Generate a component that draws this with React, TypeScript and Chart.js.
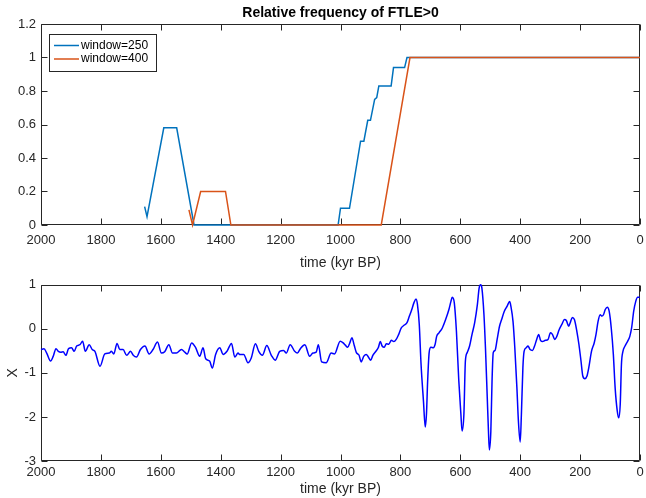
import React, { useEffect, useRef } from "react";
import { Chart, registerables } from "chart.js";

Chart.register(...registerables);

// ---------- text ----------
const TITLE = "Relative frequency of FTLE>0";
const X_LABEL = "time (kyr BP)";
const Y_LABEL_BOTTOM = "X";
const SERIES_LABELS = ["window=250", "window=400"];

// ---------- ticks ----------
const X_TICKS = [0, 200, 400, 600, 800, 1000, 1200, 1400, 1600, 1800, 2000];
const TOP_Y_TICKS = [0, 0.2, 0.4, 0.6, 0.8, 1, 1.2];
const BOTTOM_Y_TICKS = [-3, -2, -1, 0, 1];

// ---------- data: [time (kyr BP), value] ----------
const WINDOW_250: [number, number][] = [
  [1654, 0.11], [1646, 0.05], [1590, 0.58], [1547, 0.58], [1489, 0], [1008, 0],
  [1000, 0.1], [970, 0.1], [933, 0.5], [922, 0.5], [909, 0.625], [900, 0.625],
  [886, 0.75], [879, 0.76], [872, 0.83], [831, 0.83], [823, 0.94], [786, 0.94],
  [778, 1], [0, 1],
];

const WINDOW_400: [number, number][] = [
  [1506, 0.09], [1494, 0], [1467, 0.2], [1384, 0.2], [1366, 0], [864, 0],
  [768, 1], [0, 1],
];

const X_SERIES: [number, number][] = [
  [2000, -0.47], [1990, -0.45], [1981, -0.55], [1968, -0.73], [1959, -0.62], [1950, -0.45],
  [1942, -0.51], [1934, -0.53], [1926, -0.52], [1917, -0.6], [1908, -0.45], [1898, -0.43],
  [1889, -0.51], [1881, -0.39], [1870, -0.36], [1861, -0.28], [1852, -0.51], [1839, -0.36],
  [1829, -0.47], [1820, -0.51], [1803, -0.85], [1787, -0.57], [1772, -0.55], [1765, -0.51],
  [1757, -0.57], [1746, -0.33], [1737, -0.47], [1726, -0.47], [1714, -0.6], [1701, -0.51],
  [1692, -0.6], [1681, -0.64], [1668, -0.47], [1653, -0.39], [1639, -0.57], [1626, -0.47],
  [1611, -0.3], [1598, -0.55], [1587, -0.52], [1573, -0.36], [1561, -0.55], [1548, -0.55],
  [1531, -0.47], [1520, -0.53], [1512, -0.57], [1497, -0.32], [1484, -0.42], [1470, -0.62],
  [1459, -0.43], [1450, -0.68], [1437, -0.73], [1428, -0.89], [1417, -0.58], [1403, -0.43],
  [1392, -0.58], [1379, -0.51], [1364, -0.33], [1353, -0.64], [1342, -0.55], [1337, -0.58],
  [1323, -0.58], [1309, -0.77], [1298, -0.66], [1284, -0.34], [1273, -0.51], [1261, -0.6],
  [1246, -0.38], [1231, -0.6], [1218, -0.71], [1203, -0.51], [1190, -0.49], [1181, -0.55],
  [1168, -0.36], [1153, -0.51], [1144, -0.55], [1134, -0.45], [1119, -0.36], [1103, -0.62],
  [1092, -0.55], [1081, -0.53], [1074, -0.36], [1063, -0.75], [1048, -0.77], [1031, -0.55],
  [1020, -0.57], [1001, -0.28], [991, -0.32], [984, -0.37], [976, -0.42], [969, -0.32],
  [962, -0.2], [954, -0.38], [947, -0.54], [938, -0.6], [931, -0.75], [922, -0.62],
  [914, -0.58], [907, -0.64], [899, -0.71], [892, -0.6], [883, -0.52], [874, -0.43],
  [867, -0.29], [861, -0.39], [854, -0.42], [847, -0.34], [839, -0.35], [830, -0.26],
  [822, -0.29], [814, -0.24], [806, -0.13], [797, 0.02], [788, 0.08], [778, 0.14],
  [770, 0.29], [762, 0.44], [755, 0.59], [748, 0.68], [743, 0.55], [737, 0.1],
  [731, -0.81], [723, -1.64], [717, -2.23], [713, -1.94], [709, -1.18], [704, -0.54],
  [698, -0.42], [690, -0.43], [684, -0.35], [679, -0.17], [671, -0.09], [660, 0.02],
  [649, 0.21], [638, 0.44], [631, 0.63], [627, 0.72], [620, 0.59], [613, -0.05],
  [605, -1.18], [598, -1.94], [594, -2.32], [588, -1.94], [583, -0.73], [577, -0.54],
  [569, -0.39], [561, -0.13], [552, 0.14], [543, 0.55], [537, 0.93], [532, 1.0],
  [528, 0.93], [521, 0.32], [516, -0.43], [510, -1.56], [506, -2.32], [503, -2.75],
  [498, -2.32], [494, -1.18], [490, -0.54], [484, -0.49], [477, -0.24], [469, 0.06],
  [462, 0.21], [453, 0.4], [444, 0.51], [435, 0.62], [431, 0.51], [424, 0.17],
  [418, -0.43], [411, -1.34], [406, -2.09], [400, -2.57], [396, -1.94], [391, -0.88],
  [387, -0.51], [380, -0.43], [374, -0.39], [367, -0.47], [359, -0.49], [352, -0.39],
  [345, -0.24], [338, -0.13], [332, -0.26], [325, -0.29], [316, -0.26], [307, -0.24],
  [299, -0.09], [292, -0.13], [285, -0.24], [279, -0.19], [270, -0.02], [261, 0.1],
  [252, 0.21], [246, 0.19], [238, 0.06], [233, 0.14], [226, 0.26], [219, 0.21],
  [211, -0.05], [204, -0.35], [197, -0.73], [191, -1.07], [184, -1.13], [177, -1.07],
  [171, -0.88], [162, -0.51], [153, -0.32], [147, -0.13], [140, 0.17], [133, 0.32],
  [127, 0.29], [122, 0.32], [116, 0.44], [109, 0.49], [103, 0.4], [96, 0.02],
  [89, -0.58], [83, -1.34], [76, -1.86], [71, -2.02], [66, -1.71], [62, -0.81],
  [57, -0.51], [50, -0.39], [41, -0.28], [34, -0.17], [28, 0.02], [21, 0.4],
  [14, 0.63], [8, 0.72], [1, 0.72],
];

// ---------- style ----------
const FONT = "'Liberation Sans', Arial, Helvetica, sans-serif";
const AXIS_COLOR = "#262626";
const BLUE_250 = "#0072BD";
const ORANGE_400 = "#D95319";
const X_BLUE = "#0000FF";

const toPoints = (arr: [number, number][]) => arr.map(([x, y]) => ({ x, y }));

// MATLAB-like box with inward ticks on all four sides
const boxPlugin = {
  id: "matlabBox",
  beforeDatasetsDraw(chart: any) {
    const { ctx, chartArea, scales } = chart;
    const L = Math.round(chartArea.left) + 0.5;
    const R = Math.round(chartArea.right) - 0.5;
    const T = Math.round(chartArea.top) + 0.5;
    const B = Math.round(chartArea.bottom) - 0.5;
    const tl = 6;
    ctx.save();
    ctx.strokeStyle = AXIS_COLOR;
    ctx.lineWidth = 1;
    ctx.beginPath();
    ctx.rect(L, T, R - L, B - T);
    scales.x.ticks.forEach((t: any) => {
      const px = Math.round(scales.x.getPixelForValue(t.value)) + 0.5;
      ctx.moveTo(px, B);
      ctx.lineTo(px, B - tl);
      ctx.moveTo(px, T);
      ctx.lineTo(px, T + tl);
    });
    scales.y.ticks.forEach((t: any) => {
      const py = Math.round(scales.y.getPixelForValue(t.value)) + 0.5;
      ctx.moveTo(L, py);
      ctx.lineTo(L + tl, py);
      ctx.moveTo(R, py);
      ctx.lineTo(R - tl, py);
    });
    ctx.stroke();
    ctx.restore();
  },
};

// Boxed legend in the upper-left corner, built from the datasets
const legendPlugin = {
  id: "boxLegend",
  afterDraw(chart: any) {
    const { ctx, chartArea } = chart;
    const ds = chart.data.datasets;
    const x0 = chartArea.left + 8;
    const y0 = chartArea.top + 10;
    const rowH = 13.5;
    const w = 107;
    const h = 8 + rowH * ds.length + 2;
    ctx.save();
    ctx.fillStyle = "#ffffff";
    ctx.fillRect(x0, y0, w, h);
    ctx.strokeStyle = AXIS_COLOR;
    ctx.lineWidth = 1;
    ctx.strokeRect(Math.round(x0) + 0.5, Math.round(y0) + 0.5, w, h);
    ctx.font = `12px ${FONT}`;
    ctx.textBaseline = "middle";
    ctx.textAlign = "left";
    ds.forEach((d: any, i: number) => {
      const cy = y0 + 11.5 + i * rowH;
      ctx.strokeStyle = d.borderColor;
      ctx.lineWidth = 1.5;
      ctx.beginPath();
      ctx.moveTo(x0 + 5, cy);
      ctx.lineTo(x0 + 30, cy);
      ctx.stroke();
      ctx.fillStyle = "#000000";
      ctx.fillText(d.label, x0 + 32, cy);
    });
    ctx.restore();
  },
};

const tickFont = { family: FONT, size: 13 };
const labelFont = { family: FONT, size: 14 };

function xScale(height: number, tickPad: number) {
  return {
    type: "linear" as const,
    reverse: true,
    min: 0,
    max: 2000,
    afterBuildTicks: (s: any) => {
      s.ticks = X_TICKS.map((v) => ({ value: v }));
    },
    afterFit: (s: any) => {
      s.height = height;
    },
    grid: { display: false, drawTicks: false },
    border: { display: false },
    ticks: {
      padding: tickPad,
      color: AXIS_COLOR,
      font: tickFont,
      maxRotation: 0,
      autoSkip: false,
      callback: (v: any) => String(v),
    },
    title: {
      display: true,
      text: X_LABEL,
      color: AXIS_COLOR,
      font: labelFont,
      padding: { top: 0, bottom: 0 },
    },
  };
}

function yScale(ticks: number[], title?: string) {
  return {
    type: "linear" as const,
    min: ticks[0],
    max: ticks[ticks.length - 1],
    afterBuildTicks: (s: any) => {
      s.ticks = ticks.map((v) => ({ value: v }));
    },
    afterFit: (s: any) => {
      s.width = 41;
    },
    grid: { display: false, drawTicks: false },
    border: { display: false },
    ticks: {
      padding: 5,
      color: AXIS_COLOR,
      font: tickFont,
      autoSkip: false,
      callback: (v: any) => String(v),
    },
    title: {
      display: !!title,
      text: title || "",
      color: AXIS_COLOR,
      font: labelFont,
      padding: { top: 5, bottom: 0 },
    },
  };
}

export default function App() {
  const topRef = useRef<HTMLCanvasElement>(null);
  const botRef = useRef<HTMLCanvasElement>(null);

  useEffect(() => {
    const top = new Chart(topRef.current as HTMLCanvasElement, {
      type: "line",
      data: {
        datasets: [
          {
            label: SERIES_LABELS[0],
            data: toPoints(WINDOW_250),
            borderColor: BLUE_250,
            borderWidth: 1.5,
            pointRadius: 0,
            tension: 0,
            clip: false,
            order: 1,
          },
          {
            label: SERIES_LABELS[1],
            data: toPoints(WINDOW_400),
            borderColor: ORANGE_400,
            borderWidth: 1.5,
            pointRadius: 0,
            tension: 0,
            clip: false,
            order: 0,
          },
        ],
      },
      options: {
        responsive: false,
        animation: false,
        events: [],
        layout: { padding: { left: 0, right: 6, top: 0, bottom: 0 } },
        plugins: {
          legend: { display: false },
          tooltip: { enabled: false },
          title: {
            display: true,
            text: TITLE,
            fullSize: false,
            color: "#000000",
            font: { family: FONT, size: 14, weight: "bold" },
            padding: { top: 5, bottom: 2.2 },
          },
        },
        scales: {
          x: xScale(47, 8),
          y: yScale(TOP_Y_TICKS),
        },
      } as any,
      plugins: [boxPlugin, legendPlugin],
    });

    const bottom = new Chart(botRef.current as HTMLCanvasElement, {
      type: "line",
      data: {
        datasets: [
          {
            label: Y_LABEL_BOTTOM,
            data: toPoints(X_SERIES),
            borderColor: X_BLUE,
            borderWidth: 1.5,
            pointRadius: 0,
            cubicInterpolationMode: "monotone",
            clip: false,
          },
        ],
      },
      options: {
        responsive: false,
        animation: false,
        events: [],
        layout: { padding: { left: 0, right: 6, top: 12, bottom: 0 } },
        plugins: {
          legend: { display: false },
          tooltip: { enabled: false },
          title: { display: false },
        },
        scales: {
          x: xScale(37, 4),
          y: yScale(BOTTOM_Y_TICKS, Y_LABEL_BOTTOM),
        },
      } as any,
      plugins: [boxPlugin],
    });

    return () => {
      top.destroy();
      bottom.destroy();
    };
  }, []);

  return (
    <div style={{ position: "absolute", left: 0, top: 0, width: 646, height: 498, background: "#ffffff" }}>
      <canvas
        ref={topRef}
        width={646}
        height={272}
        style={{ position: "absolute", left: 0, top: 0, width: 646, height: 272 }}
      />
      <canvas
        ref={botRef}
        width={646}
        height={226}
        style={{ position: "absolute", left: 0, top: 272, width: 646, height: 226 }}
      />
    </div>
  );
}
